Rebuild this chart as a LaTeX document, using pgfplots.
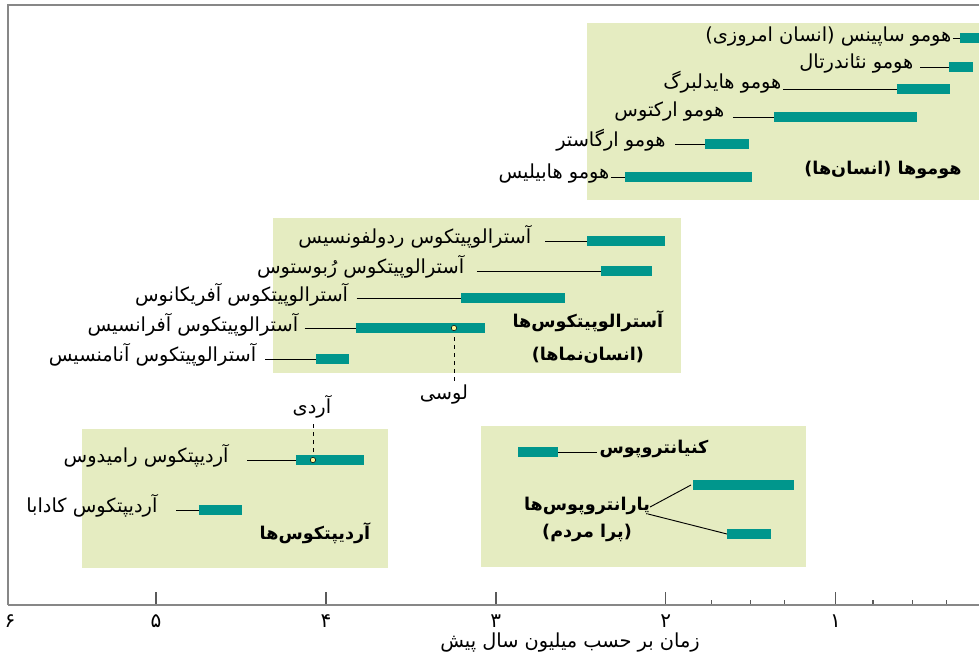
\documentclass[border=0pt]{standalone}
\usepackage{pgfplots}
\pgfplotsset{compat=1.18}
\usepackage{fontspec}
\usetikzlibrary{calc}
\TeXXeTstate=1
\newfontfamily\fa[Script=Arabic]{DejaVu Sans}
\definecolor{boxg}{RGB}{229,236,193}
\definecolor{barc}{RGB}{0,150,140}
\definecolor{axg}{RGB}{135,135,135}
\definecolor{tkg}{RGB}{90,90,90}
\definecolor{dotc}{RGB}{255,245,150}
\newcommand{\rtl}[1]{\beginR #1\endR}
\newcommand{\lab}{\fa\fontsize{14.5}{17}\selectfont}
\newcommand{\grp}{\fa\bfseries\fontsize{13.2}{16}\selectfont}
\begin{document}
\begin{tikzpicture}
\begin{axis}[name=ax, scale only axis, width=728.25pt, height=450pt,
  x dir=reverse, y dir=reverse,
  xmin=0.156, xmax=5.871, ymin=5, ymax=605,
  axis line style={draw=none}, ytick=\empty,
  xtick={1,2,3,4,5}, xticklabels={۱,۲,۳,۴,۵},
  xtick pos=bottom, xtick align=inside,
  major tick length=9.75pt, minor tick length=3.75pt,
  minor xtick={0.35,0.55,0.78,1.3,1.5,1.73},
  tick style={tkg, line width=1.2pt}, minor tick style={line width=0.8pt},
  extra x ticks={5.859}, extra x tick labels={۶},
  extra x tick style={major tick length=0pt},
  xticklabel style={font=\fa\fontsize{15}{17}\selectfont, yshift=-4pt},
  clip=true]
% background boxes
\addplot[fill=boxg, draw=none] coordinates {(2.463,23) (0,23) (0,200) (2.463,200)} --cycle;
\addplot[fill=boxg, draw=none] coordinates {(4.311,218) (1.910,218) (1.910,373) (4.311,373)} --cycle;
\addplot[fill=boxg, draw=none] coordinates {(5.436,429) (3.634,429) (3.634,568) (5.436,568)} --cycle;
\addplot[fill=boxg, draw=none] coordinates {(3.087,426) (1.174,426) (1.174,567) (3.087,567)} --cycle;
% connectors
\addplot[black, line width=0.7pt] coordinates {(0.309,38) (0.268,38)};
\addplot[black, line width=0.7pt] coordinates {(0.503,67) (0.333,67)};
\addplot[black, line width=0.7pt] coordinates {(1.310,89) (0.639,89)};
\addplot[black, line width=0.7pt] coordinates {(1.604,117) (1.363,117)};
\addplot[black, line width=0.7pt] coordinates {(1.945,144) (1.769,144)};
\addplot[black, line width=0.7pt] coordinates {(2.322,177) (2.240,177)};
\addplot[black, line width=0.7pt] coordinates {(2.710,241) (2.463,241)};
\addplot[black, line width=0.7pt] coordinates {(3.112,271) (2.381,271)};
\addplot[black, line width=0.7pt] coordinates {(3.819,298) (3.205,298)};
\addplot[black, line width=0.7pt] coordinates {(4.125,328) (3.823,328)};
\addplot[black, line width=0.7pt] coordinates {(4.358,359) (4.058,359)};
\addplot[black, line width=0.7pt] coordinates {(4.464,460) (4.176,460)};
\addplot[black, line width=0.7pt] coordinates {(4.882,510) (4.747,510)};
\addplot[black, line width=0.7pt] coordinates {(2.634,452) (2.404,452)};
\addplot[black, line width=0.7pt] coordinates {(2.092,507) (1.851,485)};
\addplot[black, line width=0.7pt] coordinates {(2.104,514) (1.639,534)};
% dashed pointers
\addplot[black, line width=0.7pt, dashed] coordinates {(3.246,329) (3.246,383)};
\addplot[black, line width=0.7pt, dashed] coordinates {(4.076,460) (4.076,422)};
% bars
\addplot[barc, line width=7.5pt] coordinates {(0.268,38) (0,38)};
\addplot[barc, line width=7.5pt] coordinates {(0.333,67) (0.192,67)};
\addplot[barc, line width=7.5pt] coordinates {(0.639,89) (0.327,89)};
\addplot[barc, line width=7.5pt] coordinates {(1.363,117) (0.521,117)};
\addplot[barc, line width=7.5pt] coordinates {(1.769,144) (1.510,144)};
\addplot[barc, line width=7.5pt] coordinates {(2.240,177) (1.492,177)};
\addplot[barc, line width=7.5pt] coordinates {(2.463,241) (2.004,241)};
\addplot[barc, line width=7.5pt] coordinates {(2.381,271) (2.081,271)};
\addplot[barc, line width=7.5pt] coordinates {(3.205,298) (2.593,298)};
\addplot[barc, line width=7.5pt] coordinates {(3.823,328) (3.064,328)};
\addplot[barc, line width=7.5pt] coordinates {(4.058,359) (3.864,359)};
\addplot[barc, line width=7.5pt] coordinates {(4.176,460) (3.776,460)};
\addplot[barc, line width=7.5pt] coordinates {(4.747,510) (4.494,510)};
\addplot[barc, line width=7.5pt] coordinates {(2.869,452) (2.634,452)};
\addplot[barc, line width=7.5pt] coordinates {(1.839,485) (1.245,485)};
\addplot[barc, line width=7.5pt] coordinates {(1.639,534) (1.380,534)};
% fossil dots
\addplot[only marks, mark=*, mark size=2pt, mark options={fill=dotc, draw=none}] coordinates {(3.246,328) (4.076,460)};
% labels
\node[anchor=east, inner sep=1pt, font=\lab] at (axis cs:0.309,37) {\rtl{هومو ساپینس (انسان امروزی)}};
\node[anchor=east, inner sep=1pt, font=\lab] at (axis cs:0.533,64) {\rtl{هومو نئاندرتال}};
\node[anchor=east, inner sep=1pt, font=\lab] at (axis cs:1.310,82) {\rtl{هومو هایدلبرگ}};
\node[anchor=east, inner sep=1pt, font=\lab] at (axis cs:1.645,112) {\rtl{هومو ارکتوس}};
\node[anchor=east, inner sep=1pt, font=\lab] at (axis cs:1.992,140) {\rtl{هومو ارگاستر}};
\node[anchor=east, inner sep=1pt, font=\lab] at (axis cs:2.322,174) {\rtl{هومو هابیلیس}};
\node[font=\grp] at (axis cs:0.721,170) {\rtl{هوموها (انسان‌ها)}};
\node[anchor=east, inner sep=1pt, font=\lab] at (axis cs:2.782,237) {\rtl{آسترالوپیتکوس ردولفونسیس}};
\node[anchor=east, inner sep=1pt, font=\lab] at (axis cs:3.177,267) {\rtl{آسترالوپیتکوس رُبوستوس}};
\node[anchor=east, inner sep=1pt, font=\lab] at (axis cs:3.860,295) {\rtl{آسترالوپیتکوس آفریکانوس}};
\node[anchor=east, inner sep=1pt, font=\lab] at (axis cs:4.154,325) {\rtl{آسترالوپیتکوس آفرانسیس}};
\node[anchor=east, inner sep=1pt, font=\lab] at (axis cs:4.401,355) {\rtl{آسترالوپیتکوس آنامنسیس}};
\node[font=\grp] at (axis cs:2.458,321) {\rtl{آسترالوپیتکوس‌ها}};
\node[font=\grp] at (axis cs:2.458,355) {\rtl{(انسان‌نماها)}};
\node[font=\lab] at (axis cs:3.305,395) {\rtl{لوسی}};
\node[font=\lab] at (axis cs:4.082,407) {\rtl{آردی}};
\node[anchor=east, inner sep=1pt, font=\lab] at (axis cs:4.564,456) {\rtl{آردیپتکوس رامیدوس}};
\node[anchor=east, inner sep=1pt, font=\lab] at (axis cs:4.982,506) {\rtl{آردیپتکوس کادابا}};
\node[font=\grp] at (axis cs:4.064,533) {\rtl{آردیپتکوس‌ها}};
\node[anchor=west, inner sep=1pt, font=\grp] at (axis cs:2.398,449) {\rtl{کنیانتروپوس}};
\node[font=\grp] at (axis cs:2.463,506) {\rtl{پارانتروپوس‌ها}};
\node[font=\grp] at (axis cs:2.463,533) {\rtl{(پرا مردم)}};
\end{axis}
\draw[axg, line width=1.5pt] (ax.south west) -- (ax.north west) -- (ax.north east);
\draw[axg, line width=1.2pt] (ax.south west) -- (ax.south east);
\node[font=\lab] at ($(ax.south west)+(421.5pt,-28.5pt)$) {\rtl{زمان بر حسب میلیون سال پیش}};
\pgfresetboundingbox
\path[use as bounding box] ($(ax.south west)+(-6pt,-44.25pt)$) rectangle ($(ax.north east)+(0pt,3.75pt)$);
\end{tikzpicture}
\end{document}
